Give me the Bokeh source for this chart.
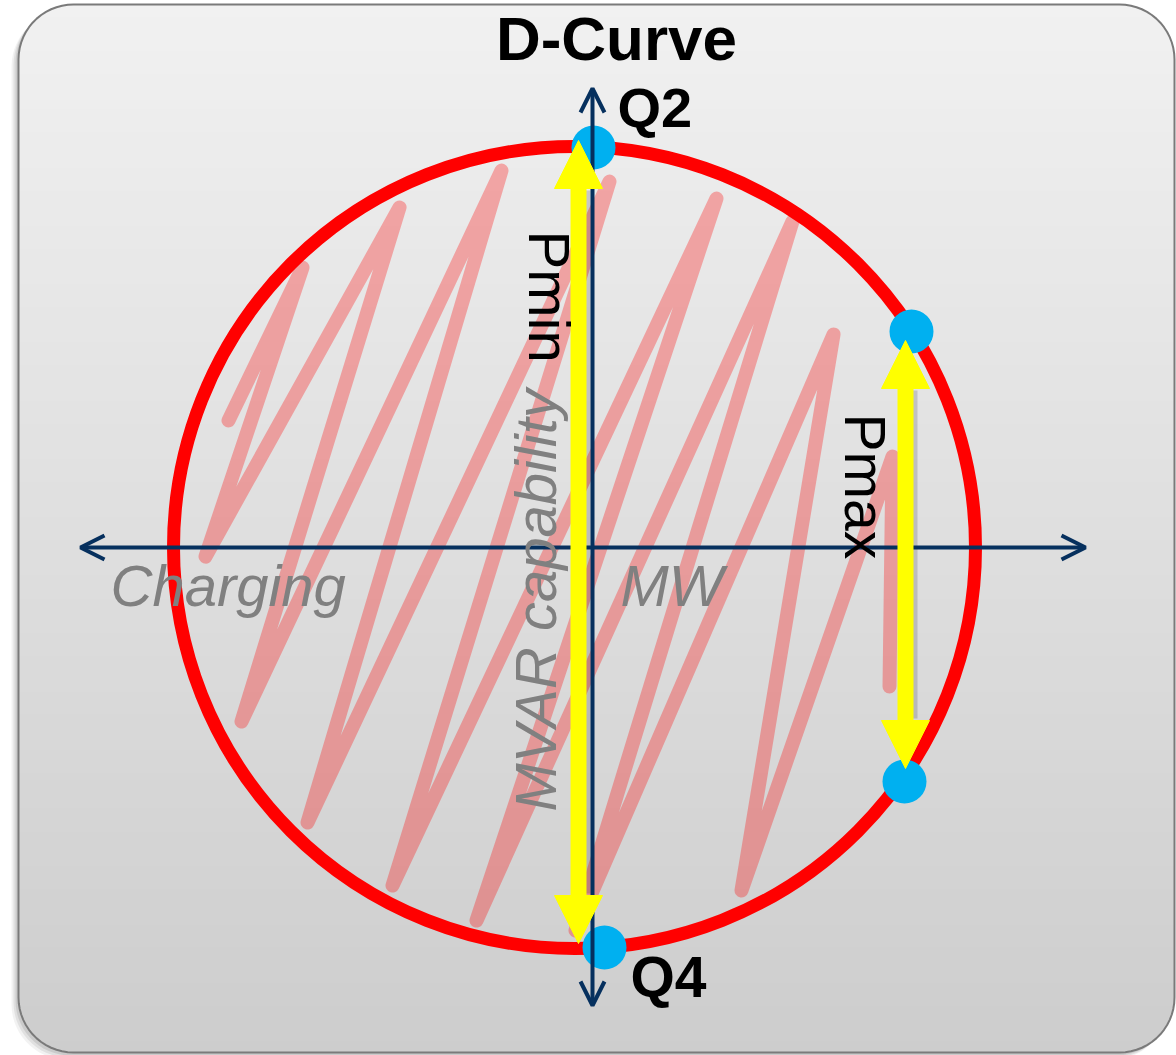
import numpy as np
from bokeh.plotting import figure
from bokeh.models import Range1d, Arrow, NormalHead, OpenHead, Label
from bokeh.embed import file_html
from bokeh.resources import INLINE

# ---------------- data (origin at the MW / MVAR axes crossing) -------------
title_text = "D-Curve"

# capability circle
circle_cx = [-18]
circle_cy = [0]
circle_r = 401

# operating points (Q2 top, Q4 bottom, Pmax upper, Pmax lower)
point_names = ["Q2", "Q4", "Pmax_hi", "Pmax_lo"]
point_x = [1, 12, 319, 312]
point_y = [400, -400, 216, -234]

# MVAR range arrows
pmin_x = -14
pmin_y = [407, -396]
pmax_x = 313
pmax_y = [207, -221]

# axes extents
mw_axis_x = [-512, 493]
mvar_axis_y = [-458, 459]

# shaded (scribbled) region, zig-zag
scribble_x = [-364, -290, -387, -193, -351, -91, -285, 17, -200, 124, -116, 200, -17, 241, 149, 300, 297]
scribble_y = [127, 280, -9, 340, -174, 377, -275, 366, -338, 349, -373, 326, -383, 213, -343, 91, -139]

# text labels
label_texts = ["Q2", "Q4", "Pmin", "Pmax", "MVAR capability", "Charging", "MW"]

# ---------------- figure -------------
W, H = 1176, 1055
p = figure(width=W, height=H, x_range=Range1d(-592, 584), y_range=Range1d(-508, 547),
           output_backend="svg", toolbar_location=None, min_border=0,
           x_axis_location=None, y_axis_location=None)
p.grid.visible = False
p.outline_line_color = None
p.background_fill_color = "white"
p.border_fill_color = "white"

# rounded panel with vertical gradient
L, R, T, B, rad = -574, 582, 543, -505, 55


def inset(y):
    d = min(T - y, y - B)
    if d >= rad:
        return 0.0
    d = max(d, 0.0)
    return rad - np.sqrt(rad * rad - (rad - d) ** 2)


def rounded(L_, R_, T_, B_, r_):
    xs, ys = [], []
    for cx, cy, a0 in [(R_ - r_, T_ - r_, 0), (L_ + r_, T_ - r_, 90), (L_ + r_, B_ + r_, 180), (R_ - r_, B_ + r_, 270)]:
        a = np.radians(np.linspace(a0, a0 + 90, 16))
        xs += list(cx + r_ * np.cos(a))
        ys += list(cy + r_ * np.sin(a))
    xs.append(xs[0]); ys.append(ys[0])
    return xs, ys


# soft shadow (left / bottom)
for k, a in [(7, 0.05), (5, 0.07), (3, 0.09)]:
    sx, sy = rounded(L - k, R - k, T - k, B - k, rad)
    p.patch(sx, sy, fill_color="black", fill_alpha=a, line_color=None)

bx, by = rounded(L, R, T, B, rad)
p.patch(bx, by, fill_color="#dfdfdf", line_color=None)

N = 90
yb = np.linspace(T, B, N + 1)
band_xs, band_ys, band_c = [], [], []
for i in range(N):
    y0, y1 = yb[i], max(yb[i + 1] - 1.0, B)
    yy = np.linspace(y0, y1, 6)
    left = [L + inset(v) for v in yy]
    right = [R - inset(v) for v in yy]
    band_xs.append(left + right[::-1])
    band_ys.append(list(yy) + list(yy[::-1]))
    g = int(round(241 + (205 - 241) * (i + 0.5) / N))
    band_c.append("#%02x%02x%02x" % (g, g, g))
p.patches(band_xs, band_ys, fill_color=band_c, line_color=None)
p.line(bx, by, line_color="#7a7a7a", line_width=2)

# scribble shading
p.line(scribble_x, scribble_y, line_color="#ff0000", line_alpha=0.3, line_width=14,
       line_join="round", line_cap="round")

# axes with open arrow heads
navy = "#06305e"
p.add_layout(Arrow(start=OpenHead(size=24, line_color=navy, line_width=4),
                   end=OpenHead(size=24, line_color=navy, line_width=4),
                   x_start=mw_axis_x[0], y_start=0, x_end=mw_axis_x[1], y_end=0,
                   line_color=navy, line_width=4))
p.add_layout(Arrow(start=OpenHead(size=24, line_color=navy, line_width=4),
                   end=OpenHead(size=24, line_color=navy, line_width=4),
                   x_start=0, y_start=mvar_axis_y[0], x_end=0, y_end=mvar_axis_y[1],
                   line_color=navy, line_width=4))

# circle
p.circle(circle_cx, circle_cy, radius=circle_r, fill_color=None, line_color="#ff0000", line_width=13)

# points
p.scatter(point_x, point_y, size=44, fill_color="#00b0f0", line_color=None)

# yellow double arrows (with faint shadow)
yel = "#ffff00"
for xx, yy in [(pmin_x, pmin_y), (pmax_x, pmax_y)]:
    p.segment(x0=[xx + 6], y0=[yy[0] - 50], x1=[xx + 6], y1=[yy[1] + 50],
              line_color="black", line_alpha=0.15, line_width=12)
    p.add_layout(Arrow(start=NormalHead(size=48, fill_color=yel, line_color=yel),
                       end=NormalHead(size=48, fill_color=yel, line_color=yel),
                       x_start=xx, y_start=yy[1], x_end=xx, y_end=yy[0],
                       line_color=yel, line_width=16))

font = "Liberation Sans"
k = 0.38  # baseline correction (fraction of font size)


def lab(x, y, text, fs, angle=0.0, style="normal", align="left", color="black"):
    if angle == 0.0:
        y = y + k * fs
    elif angle < 0:
        x = x + k * fs
    else:
        x = x - k * fs
    p.add_layout(Label(x=x, y=y, text=text, text_font=font, text_font_size="%dpx" % fs,
                       text_font_style=style, angle=angle, text_align=align,
                       text_baseline="alphabetic", text_color=color))


grey = "#808080"
lab(24, 485, title_text, 62, style="bold", align="center")
lab(25, 419, label_texts[0], 56, style="bold")
lab(38, -451, label_texts[1], 57, style="bold")
lab(-65, 317, label_texts[2], 58, angle=-np.pi / 2)
lab(251, 134, label_texts[3], 57, angle=-np.pi / 2)
lab(-35, -264, label_texts[4], 58, angle=np.pi / 2, style="italic", color=grey)
lab(-482, -60, label_texts[5], 58, style="italic", color=grey)
lab(28, -60, label_texts[6], 58, style="italic", color=grey)

open("out.html", "w").write(file_html(p, INLINE))
